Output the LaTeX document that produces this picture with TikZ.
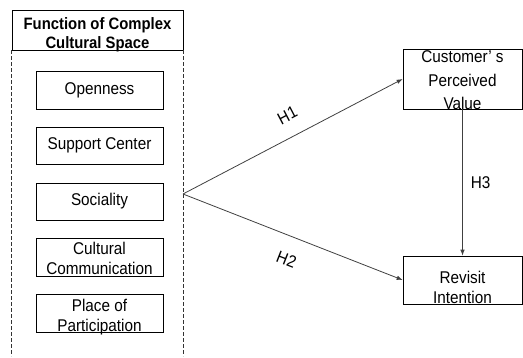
\documentclass[tikz,border=0pt]{standalone}
\usepackage{fontspec}
\setmainfont[FakeStretch=0.9]{Liberation Sans}
\usetikzlibrary{arrows.meta}
\begin{document}
\begin{tikzpicture}[x=1pt,y=-1pt,
  box/.style={draw, line width=0.7pt, inner sep=0pt},
  txt/.style={font=\fontsize{17}{20}\selectfont, align=center, inner sep=0pt},
  lbl/.style={font=\fontsize{17}{20}\selectfont, inner sep=0pt},
  arr/.style={draw=black!75, line width=0.8pt, -{Latex[length=6pt,width=4.5pt]}},
  dashline/.style={draw=black!80, line width=0.7pt, dash pattern=on 4pt off 2pt}]
\useasboundingbox (0,0) rectangle (523,358);
% header
\node[box, minimum width=171pt, minimum height=40pt] (head) at (97.5,30) {};
\node[txt, font=\fontsize{16.5}{18.5}\selectfont\bfseries] (headtxt) at (97.5,34.5) {Function of Complex\\Cultural Space};
\draw[dashline] (head.south west) -- ++(0,306);
\draw[dashline] (head.south east) -- ++(0,306);
% inner boxes
\node[box, txt, minimum width=127pt, minimum height=38pt] (open) at (99.5,90) {Openness};
\node[box, txt, minimum width=127pt, minimum height=37pt] (supp) at (99.5,145.5) {Support Center};
\node[box, txt, minimum width=127pt, minimum height=37pt] (soc) at (99.5,201.5) {Sociality};
\node[box, minimum width=127pt, minimum height=38pt] (comm) at (99.5,257) {};
\node[txt] (commtxt) at (99.5,258) {Cultural\\Communication};
\node[box, minimum width=127pt, minimum height=38pt] (part) at (99.5,313) {};
\node[txt] (parttxt) at (99.5,317.5) {Place of\\Participation};
% right boxes
\node[box, minimum width=119pt, minimum height=60pt] (cpv) at (462.5,79) {};
\node[txt, font=\fontsize{17}{23.5}\selectfont] (cpvtxt) at (462.5,80.5) {Customer’ s\\Perceived\\Value};
\node[box, minimum width=119pt, minimum height=48pt] (rev) at (462.5,280) {};
\node[txt] (revtxt) at (462.5,287) {Revisit\\Intention};
% connectors
\coordinate (fan) at (183,194);
\draw[arr] (fan) -- node[lbl, pos=0.52, sloped, above=15pt] (h1) {H1} (cpv.west);
\draw[arr] (fan) -- node[lbl, pos=0.51, sloped, below=17pt] (h2) {H2} (rev.west);
\draw[arr] (cpv.south) -- node[lbl, right=8pt] (h3) {H3} (rev.north);
\end{tikzpicture}
\end{document}
